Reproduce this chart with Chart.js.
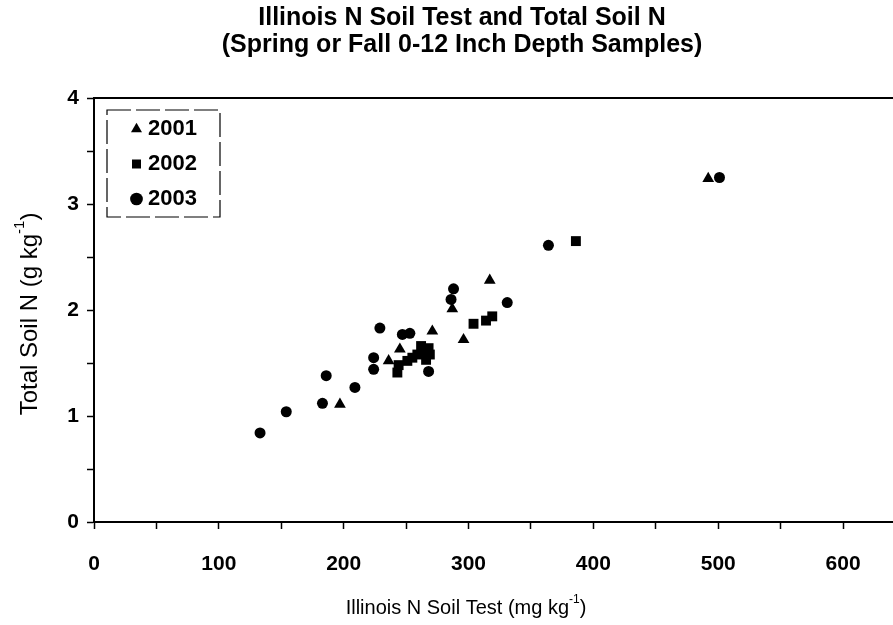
<!DOCTYPE html>
<html><head><meta charset="utf-8">
<script src="https://cdn.jsdelivr.net/npm/chart.js@4.4.1/dist/chart.umd.min.js"></script>
<style>html,body{margin:0;padding:0;background:#fff}#wrap{width:893px;height:625px}</style>
</head><body><div id="wrap"><canvas id="c" width="893" height="625"></canvas></div>
<script>
// ---- data ----
const titleLines = ['Illinois N Soil Test and Total Soil N', '(Spring or Fall 0-12 Inch Depth Samples)'];
const xAxisTitle = ['Illinois N Soil Test (mg kg', '-1', ')'];
const yAxisTitle = ['Total Soil N (g kg', '-1', ')'];
const seriesNames = ['2001', '2002', '2003'];

const x2001 = [197, 236, 245, 263, 271, 287, 296, 317, 492];
const y2001 = [1.11, 1.52, 1.63, 1.59, 1.80, 2.01, 1.72, 2.28, 3.24];

const x2002 = [243, 244, 251, 255, 259, 262, 268, 266, 269, 304, 314, 319, 386];
const y2002 = [1.41, 1.48, 1.52, 1.55, 1.58, 1.66, 1.64, 1.53, 1.58, 1.87, 1.90, 1.94, 2.65];

const x2003 = [133, 154, 183, 186, 209, 224, 224, 229, 247, 253, 268, 286, 288, 331, 364, 501];
const y2003 = [0.84, 1.04, 1.12, 1.38, 1.27, 1.44, 1.55, 1.83, 1.77, 1.78, 1.42, 2.10, 2.20, 2.07, 2.61, 3.25];

const xTickLabels = [0, 100, 200, 300, 400, 500, 600];
const yTickLabels = [0, 1, 2, 3, 4];

// ---- chart ----
const FONT = "'Liberation Sans', Arial, sans-serif";
const pts = (xs, ys) => xs.map((x, i) => ({x: x, y: ys[i]}));

function drawSupText(ctx, parts, size, weight) {
  const [base, sup, tail] = parts;
  const ss = Math.round(size * 0.62);
  ctx.font = weight + ' ' + size + 'px ' + FONT;
  const wb = ctx.measureText(base).width;
  const wt = ctx.measureText(tail).width;
  ctx.font = weight + ' ' + ss + 'px ' + FONT;
  const ws = ctx.measureText(sup).width;
  const total = wb + ws + wt;
  let x = -total / 2;
  ctx.textAlign = 'left';
  ctx.textBaseline = 'middle';
  ctx.font = weight + ' ' + size + 'px ' + FONT;
  ctx.fillText(base, x, 0); x += wb;
  ctx.font = weight + ' ' + ss + 'px ' + FONT;
  ctx.fillText(sup, x, -size * 0.42); x += ws;
  ctx.font = weight + ' ' + size + 'px ' + FONT;
  ctx.fillText(tail, x, 0);
}

const deco = {
  id: 'deco',
  beforeDraw(chart) {
    const L = chart.legend;
    if (L) { L.left = chart.chartArea.left + 29; L.top = chart.chartArea.top + 7; }
  },
  afterDraw(chart) {
    const ctx = chart.ctx, a = chart.chartArea;
    ctx.save();
    ctx.fillStyle = '#000';
    // title
    ctx.font = 'bold 25px ' + FONT;
    ctx.textAlign = 'center';
    ctx.textBaseline = 'middle';
    ctx.fillText(titleLines[0], 462, 18);
    ctx.fillText(titleLines[1], 462, 45);
    // top frame line
    ctx.strokeStyle = '#000';
    ctx.lineWidth = 2;
    ctx.beginPath(); ctx.moveTo(a.left, a.top); ctx.lineTo(a.right, a.top); ctx.stroke();
    // legend box
    ctx.lineWidth = 1.2;
    ctx.setLineDash([24, 5]);
    ctx.strokeRect(a.left + 13, a.top + 12, 113, 107);
    ctx.setLineDash([]);
    // x axis title
    ctx.save(); ctx.translate(466, 608); drawSupText(ctx, xAxisTitle, 20, 'normal'); ctx.restore();
    // y axis title
    ctx.save(); ctx.translate(30, 314); ctx.rotate(-Math.PI / 2); drawSupText(ctx, yAxisTitle, 24, 'normal'); ctx.restore();
    ctx.restore();
  }
};

const xTicksAll = [];
for (let v = xTickLabels[0]; v <= xTickLabels[xTickLabels.length - 1]; v += 50) xTicksAll.push(v);
const yTicksAll = [];
for (let v = yTickLabels[0]; v <= yTickLabels[yTickLabels.length - 1] + 1e-9; v += 0.5) yTicksAll.push(v);

new Chart(document.getElementById('c'), {
  type: 'scatter',
  data: {
    datasets: [
      {label: seriesNames[0], data: pts(x2001, y2001), pointStyle: 'triangle', pointRadius: 6.8, pointHoverRadius: 6.8,
       backgroundColor: '#000', borderColor: '#000', borderWidth: 0},
      {label: seriesNames[1], data: pts(x2002, y2002), pointStyle: 'rect', pointRadius: 7, pointHoverRadius: 7,
       backgroundColor: '#000', borderColor: '#000', borderWidth: 0},
      {label: seriesNames[2], data: pts(x2003, y2003), pointStyle: 'circle', pointRadius: 5.5, pointHoverRadius: 5.5,
       backgroundColor: '#000', borderColor: '#000', borderWidth: 0}
    ]
  },
  options: {
    responsive: false,
    animation: false,
    devicePixelRatio: 1,
    layout: {autoPadding: false, padding: {top: 98, left: 0, right: 0, bottom: 0}},
    plugins: {
      title: {display: false},
      tooltip: {enabled: false},
      legend: {
        display: true, position: 'chartArea', align: 'start',
        labels: {usePointStyle: true, boxWidth: 1, boxHeight: 9, padding: 13, color: '#000',
                 font: {family: FONT, size: 22, weight: 'bold'}}
      }
    },
    scales: {
      x: {
        type: 'linear', min: 0, max: 640,
        afterBuildTicks: s => { s.ticks = xTicksAll.map(v => ({value: v})); },
        afterFit: s => { s.height = 103; s.paddingRight = 0; s.paddingLeft = 0; },
        grid: {drawOnChartArea: false, drawTicks: true, tickLength: 7, tickWidth: 1.5, tickColor: '#000'},
        border: {display: true, color: '#000', width: 2},
        ticks: {color: '#000', padding: 23, maxRotation: 0, autoSkip: false,
                font: {family: FONT, size: 21, weight: 'bold'},
                callback: v => (xTickLabels.includes(v) ? String(v) : '')}
      },
      y: {
        type: 'linear', min: 0, max: 4,
        afterBuildTicks: s => { s.ticks = yTicksAll.map(v => ({value: v})); },
        afterFit: s => { s.width = 94; s.paddingTop = 0; s.paddingBottom = 0; },
        grid: {drawOnChartArea: false, drawTicks: true, tickLength: 7, tickWidth: 1.5, tickColor: '#000'},
        border: {display: true, color: '#000', width: 2},
        ticks: {color: '#000', padding: 8, autoSkip: false,
                font: {family: FONT, size: 21, weight: 'bold'},
                callback: v => (yTickLabels.includes(v) ? String(v) : '')}
      }
    }
  },
  plugins: [deco]
});
</script>
</body></html>
